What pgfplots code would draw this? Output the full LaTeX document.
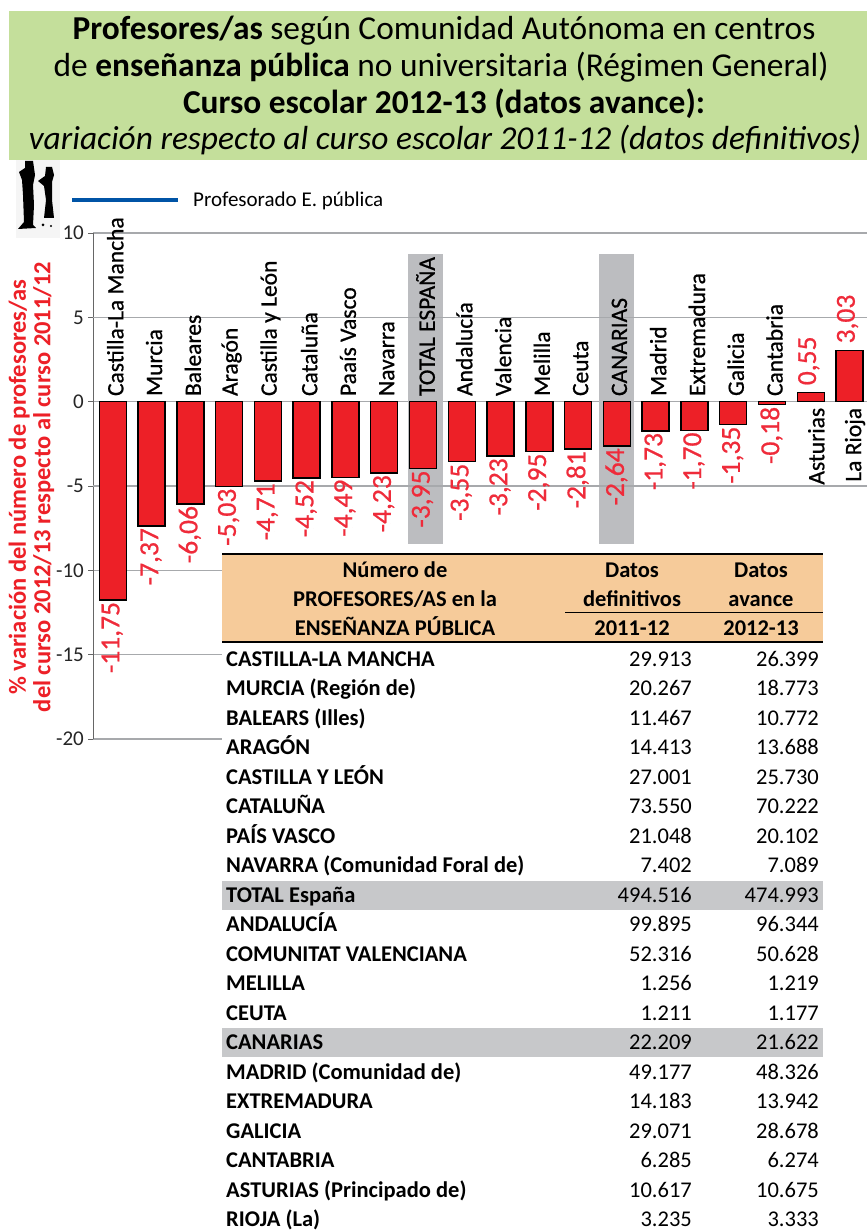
\documentclass[border=0pt]{standalone}
\usepackage{pgfplots}
\pgfplotsset{compat=1.18}
\usepackage{pgfplotstable}
\usepackage{fontspec}
\setmainfont{Carlito}
\newfontfamily\medfont[RawFeature={embolden=0.7}]{Carlito}
\definecolor{tgreen}{HTML}{C4DF9B}
\definecolor{peach}{HTML}{F6CB9A}
\definecolor{rowgrey}{HTML}{C7C8CA}
\definecolor{labgrey}{HTML}{BCBDC0}
\definecolor{barred}{HTML}{ED2027}
\definecolor{labred}{HTML}{EF2B3A}
\definecolor{gridc}{HTML}{A7A9AC}
\definecolor{legblue}{HTML}{0054A6}
\newcommand{\fsz}[1]{\fontsize{#1}{#1}\selectfont}
\pgfplotstableread{
x y lab cat
0 -11.75 {-11,75} {Castilla-La Mancha}
1 -7.37 {-7,37} {Murcia}
2 -6.06 {-6,06} {Baleares}
3 -5.03 {-5,03} {Aragón}
4 -4.71 {-4,71} {Castilla y León}
5 -4.52 {-4,52} {Cataluña}
6 -4.49 {-4,49} {Paaís Vasco}
7 -4.23 {-4,23} {Navarra}
8 -3.95 {-3,95} {TOTAL ESPAÑA}
9 -3.55 {-3,55} {Andalucía}
10 -3.23 {-3,23} {Valencia}
11 -2.95 {-2,95} {Melilla}
12 -2.81 {-2,81} {Ceuta}
13 -2.64 {-2,64} {CANARIAS}
14 -1.73 {-1,73} {Madrid}
15 -1.70 {-1,70} {Extremadura}
16 -1.35 {-1,35} {Galicia}
17 -0.18 {-0,18} {Cantabria}
}\datneg
\pgfplotstableread{
x y lab cat
18 0.55 {0,55} {Asturias}
19 3.03 {3,03} {La Rioja}
}\datpos
\begin{document}
\begin{tikzpicture}
\path[use as bounding box] (0pt,0pt) rectangle (867pt,-1230pt);
\begin{scope}[x=1pt,y=-1pt]
\fill[white] (0,0) rectangle (867,1230);
% title band
\fill[tgreen] (9,11) rectangle (867,160);
\node[anchor=base] at (444,40) {\fsz{33.4}\textbf{Profesores/as} según Comunidad Autónoma en centros};
\node[anchor=base] at (441,77) {\fsz{33.4}de \textbf{enseñanza pública} no universitaria (Régimen General)};
\node[anchor=base] at (444,114) {\fsz{33.4}\textbf{Curso escolar 2012-13 (datos avance):}};
\node[anchor=base] at (445,150) {\fsz{33.4}\textit{variación respecto al curso escolar 2011-12 (datos definitivos)}};
% small picture
\fill[black!4] (16,160) rectangle (60,238);
\fill[black] (25,161) -- (33,161) -- (34,168) -- (35,175) -- (33,185) -- (34,205) -- (33,225) -- (36,228) -- (18,229) -- (24,222) -- (23,195) -- (22,180) -- (19,172) -- (25,168) -- cycle;
\fill[black] (46,167) -- (52,167) -- (54,175) -- (52,182) -- (52,200) -- (54,218) -- (44,218) -- (46,200) -- (44,186) -- (38,181) -- (45,176) -- cycle;
\fill[black] (43,225) circle (1.5);
\fill[black] (51,226) circle (1.2);
% legend
\draw[legblue,line width=3.5pt] (72,200) -- (178,200);
\node[anchor=west,inner sep=0pt] at (193,200.5) {\fsz{21}Profesorado E. pública};
\end{scope}
\begin{axis}[
  at={(93.4pt,-739pt)},anchor=south west,
  scale only axis,width=773.6pt,height=506pt,
  xmin=-0.5,xmax=19.45,ymin=-20,ymax=10,
  clip=false,
  axis y line*=left,axis x line=none,
  axis line style={color=black!60,line width=1pt},
  ytick={-20,-15,-10,-5,0,5,10},
  yticklabels={-20,-15,-10,-5,0,5,10},
  yticklabel style={font=\fsz{21},text=black!85,xshift=-1pt},
  tick align=outside,major tick length=5pt,
  tick style={color=black!60,line width=1pt},
  ymajorgrids,grid style={color=gridc,line width=1.2pt},
  ylabel={\% variación del número de profesores/as\\del curso 2012/13 respecto al curso 2011/12},
  every axis y label/.style={at={(axis description cs:-0.0800,0.498)},rotate=90,anchor=center,align=center,font=\fsz{24.5}\bfseries,text=barred},
]
\fill[labgrey] (axis cs:7.614,8.755) rectangle (axis cs:8.517,-8.417);
\fill[labgrey] (axis cs:12.54,8.755) rectangle (axis cs:13.443,-8.417);
% category names
\addplot[draw=none,mark=none,nodes near coords,point meta=explicit symbolic,
  every node near coord/.append style={xshift=2.5pt,yshift=5.5pt,rotate=90,anchor=west,inner sep=0pt,font=\medfont\fsz{23.5},text=black}]
  table[x=x,y expr=0,meta=cat] {\datneg};
\addplot[draw=none,mark=none,nodes near coords,point meta=explicit symbolic,
  every node near coord/.append style={xshift=5.5pt,yshift=-6pt,rotate=90,anchor=east,inner sep=0pt,font=\medfont\fsz{23.5},text=black}]
  table[x=x,y expr=0,meta=cat] {\datpos};
% values
\addplot[draw=none,mark=none,nodes near coords,point meta=explicit symbolic,
  every node near coord/.append style={xshift=-0.5pt,yshift=-2pt,rotate=90,anchor=east,inner sep=0pt,font=\medfont\fsz{27.5},text=labred}]
  table[x=x,y=y,meta=lab] {\datneg};
\addplot[draw=none,mark=none,nodes near coords,point meta=explicit symbolic,
  every node near coord/.append style={xshift=-2pt,yshift=7pt,rotate=90,anchor=west,inner sep=0pt,font=\medfont\fsz{27.5},text=labred}]
  table[x=x,y=y,meta=lab] {\datpos};
% gridlines at 5 and -5 run over the labels, under the bars
\addplot[color=gridc,line width=1.2pt] coordinates {(-0.5,5) (19.45,5)};
\addplot[color=gridc,line width=1.2pt] coordinates {(-0.5,-5) (19.45,-5)};
% bars
\addplot[ybar,bar width=27pt,bar shift=0pt,fill=barred,draw=black,line width=1.5pt] table[x=x,y=y] {\datneg};
\addplot[ybar,bar width=27pt,bar shift=0pt,fill=barred,draw=black,line width=1.5pt] table[x=x,y=y] {\datpos};
\end{axis}
\begin{scope}[x=1pt,y=-1pt]
% table
\fill[white] (222,555) rectangle (867,1230);
\fill[peach] (222,553) rectangle (823,641);
\draw[black,line width=2.6pt] (222,554) -- (823,554);
\draw[black,line width=2.6pt] (222,642) -- (823,642);
\draw[black,line width=1.6pt] (565,612.5) -- (823,612.5);
\fill[rowgrey] (222,881) rectangle (823,909.5);
\fill[rowgrey] (222,1028) rectangle (823,1056.5);
\begin{scope}[every node/.style={inner sep=0pt,text=black,anchor=base}]
\node at (395,577) {\fsz{22.5}\bfseries Número de};
\node at (395,606) {\fsz{22.5}\bfseries PROFESORES/AS en la};
\node at (395,635.5) {\fsz{22.5}\bfseries ENSEÑANZA PÚBLICA};
\node at (632,577) {\fsz{22.5}\bfseries Datos};
\node at (632,606) {\fsz{22.5}\bfseries definitivos};
\node at (632,635.5) {\fsz{22.5}\bfseries 2011-12};
\node at (761,577) {\fsz{22.5}\bfseries Datos};
\node at (761,606) {\fsz{22.5}\bfseries avance};
\node at (761,635.5) {\fsz{22.5}\bfseries 2012-13};
\foreach \yy/\nm/\va/\vb in {
659/CASTILLA-LA MANCHA/29.913/26.399,
688.5/MURCIA (Región de)/20.267/18.773,
718/BALEARS (Illes)/11.467/10.772,
747.5/ARAGÓN/14.413/13.688,
777/CASTILLA Y LEÓN/27.001/25.730,
806.5/CATALUÑA/73.550/70.222,
836/PAÍS VASCO/21.048/20.102,
865.5/NAVARRA (Comunidad Foral de)/7.402/7.089,
895/TOTAL España/494.516/474.993,
924.5/ANDALUCÍA/99.895/96.344,
954/COMUNITAT VALENCIANA/52.316/50.628,
983.5/MELILLA/1.256/1.219,
1013/CEUTA/1.211/1.177,
1042.5/CANARIAS/22.209/21.622,
1072/MADRID (Comunidad de)/49.177/48.326,
1101.5/EXTREMADURA/14.183/13.942,
1131/GALICIA/29.071/28.678,
1160.5/CANTABRIA/6.285/6.274,
1190/ASTURIAS (Principado de)/10.617/10.675,
1219.5/RIOJA (La)/3.235/3.333}{
\node[anchor=base west] at (226,\yy+7.3) {\fsz{22.5}\bfseries \nm};
\node[anchor=base east] at (692,\yy+7.3) {\fsz{22.5}\va};
\node[anchor=base east] at (819,\yy+7.3) {\fsz{22.5}\vb};
}
\end{scope}
\end{scope}
\end{tikzpicture}
\end{document}
